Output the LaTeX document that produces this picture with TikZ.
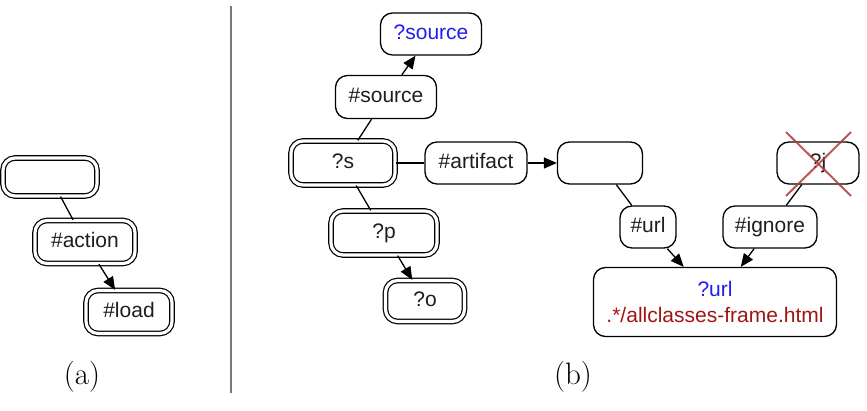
\documentclass[tikz,border=0pt]{standalone}
\usepackage{fontspec}
\newfontfamily\hv{Liberation Sans}
\usetikzlibrary{arrows.meta,calc}
\definecolor{qblue}{RGB}{30,30,240}
\definecolor{qred}{RGB}{160,20,20}
\definecolor{xred}{RGB}{175,60,60}
\definecolor{sepgray}{RGB}{120,120,120}
\definecolor{txt}{RGB}{30,30,30}
\tikzset{
  box/.style={draw, line width=1.3pt, rounded corners=12pt, inner sep=0pt, text=txt,
    font=\hv\fontsize{21}{25}\selectfont, text height=15pt, text depth=4pt},
  dbox/.style={box, double, line width=1.2pt, double distance=3.2pt},
  conn/.style={line width=1.3pt},
  arr/.style={conn, -{Triangle[length=13pt,width=11pt]}},
  sublabel/.style={font=\fontsize{31}{34}\selectfont, inner sep=0pt}
}
\begin{document}
\begin{tikzpicture}[x=1pt,y=-1pt]
\useasboundingbox (0,0) rectangle (867,411);
% separator
\draw[sepgray, line width=1.5pt] (231,6) -- (231,393);
% (a)
\node[dbox, minimum width=94pt, minimum height=38pt] (tl) at (50,177) {};
\node[dbox, minimum width=100pt, minimum height=43pt] (action) at (85,242) {\#action};
\node[dbox, minimum width=86pt, minimum height=43pt] (load) at (129,312) {\#load};
\draw[conn] (tl) -- (action);
\draw[arr] (action) -- (load);
\node[sublabel] (la) at (82,377) {(a)};
% (b)
\node[box, minimum width=101pt, minimum height=42pt, text=qblue] (qsource) at (431,34) {?source};
\node[box, minimum width=101pt, minimum height=43pt] (hsource) at (386,97) {\#source};
\node[dbox, minimum width=104pt, minimum height=44pt] (qs) at (343,163) {?s};
\node[dbox, minimum width=106pt, minimum height=44pt] (qp) at (384,233) {?p};
\node[dbox, minimum width=79pt, minimum height=41pt] (qo) at (425,301) {?o};
\node[box, minimum width=102pt, minimum height=42pt] (art) at (476,163) {\#artifact};
\node[box, minimum width=85pt, minimum height=42pt] (empty) at (600,163) {};
\node[box, minimum width=82pt, minimum height=42pt] (qj) at (818,163) {?j};
\node[box, minimum width=56pt, minimum height=42pt] (url) at (648,227) {\#url};
\node[box, minimum width=94pt, minimum height=42pt] (ignore) at (770,227) {\#ignore};
\node[box, minimum width=243pt, minimum height=69pt, text height=, text depth=, align=center] (qurl) at (715,302)
  {\textcolor{qblue}{?url}\\[1pt]\textcolor{qred}{.*/allclasses-frame.html}};
\draw[arr] (hsource) -- (qsource);
\draw[conn] (qs) -- (hsource);
\draw[conn] (qs) -- (qp);
\draw[arr] (qp) -- (qo);
\draw[conn] (qs) -- (art);
\draw[arr] (art) -- (empty);
\draw[conn] (empty) -- (url);
\draw[arr] (url) -- (qurl);
\draw[conn] (qj) -- (ignore);
\draw[arr] (ignore) -- (qurl);
\draw[xred, line width=2pt, opacity=0.85] ($(qj)+(-32,-31)$) -- ($(qj)+(33,33)$);
\draw[xred, line width=2pt, opacity=0.85] ($(qj)+(33,-31)$) -- ($(qj)+(-32,33)$);
\node[sublabel] (lb) at (573,377) {(b)};
\end{tikzpicture}
\end{document}
